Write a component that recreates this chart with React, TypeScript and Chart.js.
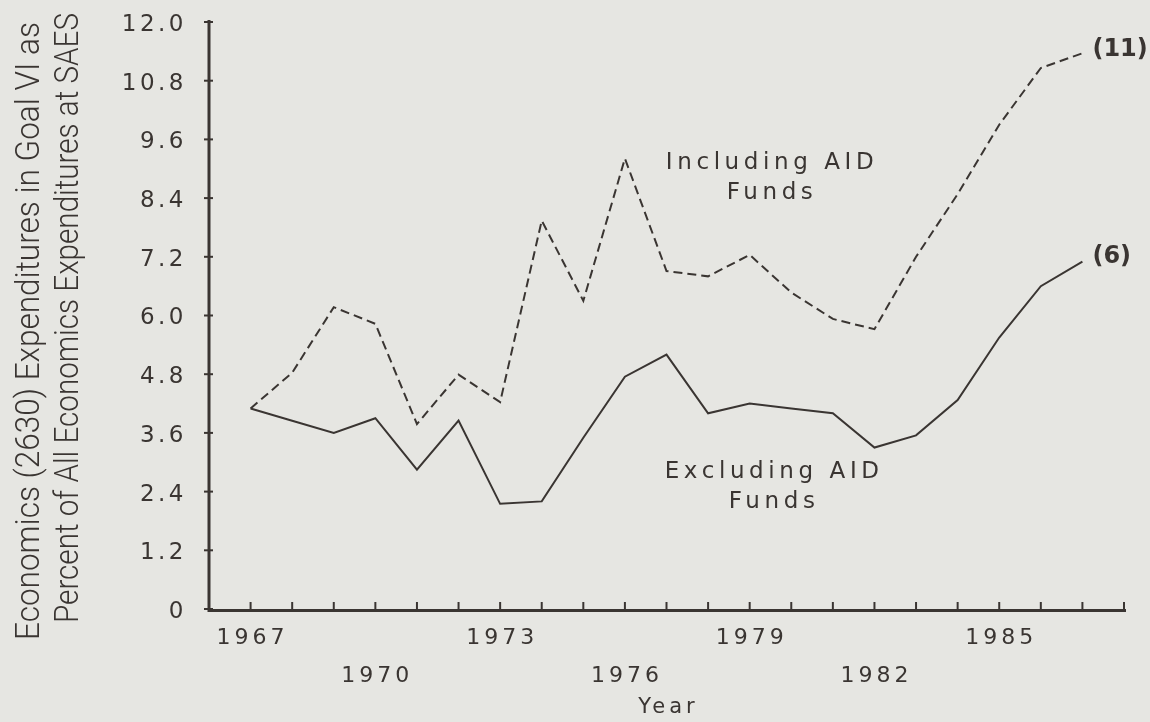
import React, { useEffect, useRef } from 'react';
import { Chart, registerables } from 'chart.js';

Chart.register(...registerables);

const years = [1967, 1968, 1969, 1970, 1971, 1972, 1973, 1974, 1975, 1976, 1977, 1978, 1979, 1980, 1981, 1982, 1983, 1984, 1985, 1986, 1987];
const includingAid = [4.1, 4.83, 6.17, 5.83, 3.78, 4.79, 4.23, 7.94, 6.3, 9.21, 6.91, 6.8, 7.24, 6.47, 5.93, 5.72, 7.2, 8.48, 9.9, 11.06, 11.36];
const excludingAid = [4.1, 3.85, 3.6, 3.9, 2.85, 3.85, 2.15, 2.2, 3.5, 4.75, 5.2, 4.0, 4.2, 4.1, 4.0, 3.3, 3.55, 4.27, 5.55, 6.6, 7.1];

const yTickValues = [0, 1.2, 2.4, 3.6, 4.8, 6.0, 7.2, 8.4, 9.6, 10.8, 12.0];
const yTickLabels = ['0', '1.2', '2.4', '3.6', '4.8', '6.0', '7.2', '8.4', '9.6', '10.8', '12.0'];
const xTickYears = [1967, 1968, 1969, 1970, 1971, 1972, 1973, 1974, 1975, 1976, 1977, 1978, 1979, 1980, 1981, 1982, 1983, 1984, 1985, 1986, 1987, 1988];
const xLabelYearsRow1 = [1967, 1973, 1979, 1985];
const xLabelYearsRow2 = [1970, 1976, 1982];
const yTitleLines = ['Economics (2630) Expenditures in Goal VI as', 'Percent of All Economics Expenditures at SAES'];
const xTitle = 'Year';
const includingLabel = ['Including AID', 'Funds'];
const excludingLabel = ['Excluding AID', 'Funds'];
const endLabels = ['(11)', '(6)'];

const INK = '#3a3532';
const PAPER = '#e6e6e2';

const customDraw = {
  id: 'customDraw',
  afterDraw(chart: any) {
    const ctx = chart.ctx as CanvasRenderingContext2D;
    const xs = chart.scales.x;
    const ys = chart.scales.y;
    const area = chart.chartArea;
    ctx.save();
    ctx.strokeStyle = INK;
    ctx.fillStyle = INK;
    ctx.lineCap = 'butt';
    // axes
    ctx.lineWidth = 3;
    ctx.beginPath();
    ctx.moveTo(area.left, area.top - 2);
    ctx.lineTo(area.left, area.bottom + 1.5);
    ctx.lineTo(area.right + 2, area.bottom + 1.5);
    ctx.stroke();
    // y ticks
    ctx.lineWidth = 2;
    for (const v of yTickValues) {
      const py = ys.getPixelForValue(v);
      ctx.beginPath();
      ctx.moveTo(area.left - 5, py);
      ctx.lineTo(area.left + 4, py);
      ctx.stroke();
    }
    // x ticks
    for (const yr of xTickYears) {
      const px = xs.getPixelForValue(yr);
      ctx.beginPath();
      ctx.moveTo(px, area.bottom + 1);
      ctx.lineTo(px, area.bottom - 7);
      ctx.stroke();
    }
    // y tick labels
    (ctx as any).letterSpacing = '3.5px';
    ctx.font = '23px "DejaVu Sans"';
    ctx.textAlign = 'right';
    ctx.textBaseline = 'middle';
    yTickValues.forEach((v, i) => {
      ctx.fillText(yTickLabels[i], area.left - 22, ys.getPixelForValue(v) + 3);
    });
    // x tick labels
    (ctx as any).letterSpacing = '4px';
    ctx.font = '22px "DejaVu Sans"';
    ctx.textAlign = 'center';
    for (const yr of xLabelYearsRow1) {
      ctx.fillText(String(yr), xs.getPixelForValue(yr) + 2, area.bottom + 29);
    }
    for (const yr of xLabelYearsRow2) {
      ctx.fillText(String(yr), xs.getPixelForValue(yr) + 2, area.bottom + 67);
    }
    // x title
    ctx.font = '21px "DejaVu Sans"';
    ctx.fillText(xTitle, (area.left + area.right) / 2 + 2, 708);
    // annotations
    ctx.font = '23px "DejaVu Sans"';
    (ctx as any).letterSpacing = '4.6px';
    ctx.fillText(includingLabel[0], xs.getPixelForValue(1979.49) + 2, ys.getPixelForValue(9.12));
    ctx.fillText(includingLabel[1], xs.getPixelForValue(1979.49) + 2, ys.getPixelForValue(8.5));
    ctx.fillText(excludingLabel[0], xs.getPixelForValue(1979.54) + 2, ys.getPixelForValue(2.8));
    ctx.fillText(excludingLabel[1], xs.getPixelForValue(1979.54) + 2, ys.getPixelForValue(2.19));
    // end labels
    (ctx as any).letterSpacing = '0px';
    ctx.font = 'bold 24px "DejaVu Sans"';
    ctx.textAlign = 'left';
    const last = years.length - 1;
    ctx.fillText(endLabels[0], xs.getPixelForValue(years[last]) + 10, ys.getPixelForValue(includingAid[last]) - 4);
    ctx.fillText(endLabels[1], xs.getPixelForValue(years[last]) + 10, ys.getPixelForValue(excludingAid[last]) - 5);
    // y title (two lines, rotated)
    ctx.font = '300 33px Roboto, "Liberation Sans", sans-serif';
    ctx.textAlign = 'center';
    const titleCenters = [{ x: 31, y: 331, len: 618 }, { x: 70, y: 318, len: 610 }];
    yTitleLines.forEach((line, i) => {
      const t = titleCenters[i];
      const w = ctx.measureText(line).width;
      ctx.save();
      ctx.translate(t.x, t.y);
      ctx.rotate(-Math.PI / 2);
      ctx.scale(t.len / w, 1);
      ctx.fillText(line, 0, 0);
      ctx.restore();
    });
    ctx.restore();
  },
};

export default function App() {
  const ref = useRef<HTMLCanvasElement | null>(null);
  useEffect(() => {
    if (!ref.current) return;
    const chart = new Chart(ref.current, {
      type: 'line',
      data: {
        datasets: [
          {
            label: 'Including AID Funds',
            data: years.map((y, i) => ({ x: y, y: includingAid[i] })),
            borderColor: INK,
            borderWidth: 2,
            borderDash: [9, 5],
            pointRadius: 0,
            tension: 0,
            fill: false,
          },
          {
            label: 'Excluding AID Funds',
            data: years.map((y, i) => ({ x: y, y: excludingAid[i] })),
            borderColor: INK,
            borderWidth: 2,
            pointRadius: 0,
            tension: 0,
            fill: false,
          },
        ],
      },
      options: {
        animation: false,
        responsive: true,
        maintainAspectRatio: false,
        layout: { padding: { top: 22, right: 26, left: 0, bottom: 0 } },
        plugins: { legend: { display: false }, tooltip: { enabled: false } },
        scales: {
          x: {
            type: 'linear',
            min: 1966,
            max: 1988,
            grid: { display: false },
            border: { display: false },
            ticks: { display: false, stepSize: 1 },
            afterFit: (s: any) => { s.height = 113; },
          },
          y: {
            type: 'linear',
            min: 0,
            max: 12,
            grid: { display: false },
            border: { display: false },
            ticks: { display: false, stepSize: 1.2 },
            afterFit: (s: any) => { s.width = 209; },
          },
        },
      },
      plugins: [customDraw],
    });
    return () => chart.destroy();
  }, []);
  return (
    <div style={{ position: 'fixed', left: 0, top: 0, width: 1150, height: 722, background: PAPER }}>
      <canvas ref={ref} />
    </div>
  );
}
